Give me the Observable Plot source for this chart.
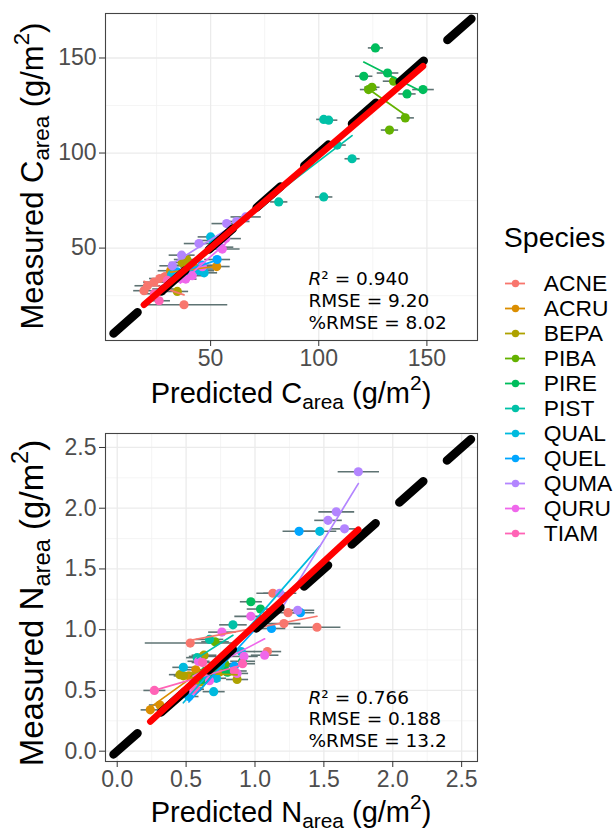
<!DOCTYPE html>
<html><head><meta charset="utf-8">
<script src="https://cdn.jsdelivr.net/npm/d3@7"></script>
<script src="https://cdn.jsdelivr.net/npm/@observablehq/plot@0.6"></script>
<style>
body{margin:0;background:#fff;}
#wrap{position:relative;width:615px;height:830px;overflow:hidden;font-family:"Liberation Sans",Arial,sans-serif;}
#wrap svg{position:absolute;overflow:visible;}
</style></head><body><div id="wrap"></div>
<script>
// ---------- data ----------
const species = ["ACNE","ACRU","BEPA","PIBA","PIRE","PIST","QUAL","QUEL","QUMA","QURU","TIAM"];
const speciesColors = ["#F8766D","#DB8E00","#AEA200","#64B200","#00BD5C","#00C1A7","#00BADE","#00A6FF","#B385FF","#EF67EB","#FF63B6"];

// Carbon (top panel)
const cSpecies = [
  "ACNE","ACNE","ACNE","ACNE","ACNE","ACNE",
  "ACRU","ACRU","ACRU","ACRU","ACRU",
  "BEPA","BEPA","BEPA","BEPA","BEPA",
  "PIBA","PIBA","PIBA","PIBA","PIBA",
  "PIRE","PIRE","PIRE","PIRE","PIRE",
  "PIST","PIST","PIST","PIST","PIST","PIST",
  "QUAL","QUAL","QUAL","QUAL","QUAL","QUAL",
  "QUEL","QUEL","QUEL","QUEL",
  "QUMA","QUMA","QUMA","QUMA","QUMA","QUMA","QUMA",
  "QURU","QURU","QURU","QURU","QURU","QURU",
  "TIAM","TIAM","TIAM","TIAM"];
const cPred = [
  19.2,20.8,23.8,26.5,29,37.7,
  31.5,40,45.5,52.8,36,
  34.6,36.9,39,33,42,
  123,124.6,140,132.7,134.6,
  126.2,120.8,131.8,140.8,148.2,
  102.3,104.6,115.4,102.3,81.5,108.5,
  50,51,44.6,47,38,32,
  46,34.5,53,40,
  57.4,62,66.2,44.6,36.6,32.3,54.5,
  55.4,57,41.5,38.5,46.2,36,
  26.2,24,30,28];
const cMeas = [
  27.6,30.2,32.1,34,35,20.2,
  38.1,41,39,40.3,35.5,
  27.2,42.4,44,36,40,
  133.4,134.6,118.5,112.1,137.8,
  155.3,140.4,142.1,131.1,133.4,
  117.7,117.3,97,76.9,74.3,104.2,
  55.9,54,38.1,37,36.5,36,
  41,37.5,44,38,
  62.9,64,66.4,52.4,46.3,40.7,50.5,
  49.5,55,35.5,33.7,40.2,34,
  22.3,26,33,28.5];
const cErr = [
  5,6,5,5,4,20,
  6,6,7,6,5,
  5,6,6,5,6,
  4,3.5,4,4,5,
  3.5,4,5,4,5,
  3.5,4,3.5,4,4,4,
  6,7,7,6,5,5,
  6,5,6,5,
  7,6,7,7,6,6,6,
  8,7,5,5,6,5,
  5,5,5,5];

// Nitrogen (bottom panel)
const nSpecies = [
  "ACNE","ACNE","ACNE","ACNE","ACNE","ACNE",
  "ACRU","ACRU","ACRU","ACRU","ACRU","ACRU",
  "BEPA","BEPA","BEPA","BEPA","BEPA",
  "PIBA","PIBA","PIBA","PIBA",
  "PIRE","PIRE","PIRE","PIRE","PIRE","PIRE","PIRE",
  "PIST","PIST","PIST","PIST",
  "QUAL","QUAL","QUAL","QUAL","QUAL","QUAL",
  "QUEL","QUEL","QUEL","QUEL","QUEL","QUEL",
  "QUMA","QUMA","QUMA","QUMA","QUMA","QUMA",
  "QURU","QURU","QURU","QURU","QURU","QURU","QURU","QURU",
  "TIAM","TIAM","TIAM","TIAM","TIAM"];
const nPred = [
  0.53,1.13,1.24,1.21,1.45,1.09,
  0.24,0.31,0.57,0.62,0.74,0.52,
  0.455,0.48,0.63,0.87,0.60,
  0.71,0.66,0.78,0.56,
  0.97,1.04,0.80,0.91,0.79,0.64,0.62,
  0.84,0.67,0.58,0.75,
  1.47,0.48,0.70,0.72,0.90,0.56,
  1.32,1.12,1.33,0.65,0.52,0.85,
  1.18,1.31,1.53,1.59,1.65,1.75,
  0.97,0.76,0.87,0.67,0.92,0.59,1.07,0.55,
  0.27,0.57,0.62,0.85,0.91];
const nMeas = [
  0.89,1.30,1.14,1.05,1.02,0.82,
  0.34,0.38,0.67,0.78,0.65,0.62,
  0.63,0.62,0.79,0.59,0.57,
  0.90,0.64,0.72,0.60,
  1.23,1.17,0.65,0.74,0.66,0.66,0.59,
  1.04,0.92,0.77,0.71,
  1.81,0.69,0.49,0.60,0.82,0.52,
  1.81,1.01,1.14,0.63,0.45,0.70,
  1.30,1.16,1.90,1.97,1.83,2.30,
  1.11,0.98,0.64,0.58,0.78,0.74,0.79,0.50,
  0.50,0.51,0.73,0.66,0.72];
const nErr = [
  0.33,0.12,0.10,0.12,0.17,0.10,
  0.07,0.08,0.08,0.10,0.08,0.07,
  0.08,0.07,0.09,0.08,0.07,
  0.10,0.08,0.09,0.08,
  0.08,0.10,0.08,0.09,0.07,0.08,0.07,
  0.10,0.10,0.08,0.08,
  0.12,0.08,0.08,0.07,0.10,0.06,
  0.12,0.10,0.10,0.08,0.07,0.08,
  0.12,0.12,0.10,0.13,0.10,0.15,
  0.12,0.10,0.08,0.08,0.10,0.08,0.10,0.06,
  0.08,0.06,0.08,0.09,0.09];

const cDomain = [1.4, 173.4];
const nDomain = [-0.085, 2.615];
const cTicks = [50, 100, 150];
const cMinor = [25, 75, 125];
const nTicks = [0, 0.5, 1, 1.5, 2, 2.5];
const nMinor = [0.25, 0.75, 1.25, 1.75, 2.25];
const annotC = ["R² = 0.940", "RMSE = 9.20", "%RMSE = 8.02"];
const annotN = ["R² = 0.766", "RMSE = 0.188", "%RMSE = 13.2"];

// ---------- drawing ----------
const wrap = document.getElementById("wrap");
const FONT = "Liberation Sans, Arial, sans-serif";

function panel({sp, pred, meas, err, domain, ticks, minor, fmt, annot, marginTop, marginBottom, annotDy}) {
  const data = pred.map((p, i) => ({species: sp[i], x: p, y: meas[i], e: err[i]}));
  const diag = domain.map(v => ({x: v, y: v}));
  return Plot.plot({
    width: 480, height: 415,
    marginLeft: 105, marginRight: 3, marginTop, marginBottom,
    x: {domain, label: null},
    y: {domain, label: null},
    color: {domain: species, range: speciesColors},
    style: {fontFamily: FONT, fontSize: "23px", color: "#4D4D4D", background: "transparent"},
    marks: [
      Plot.gridX(minor, {stroke: "#F3F3F3", strokeOpacity: 1, strokeWidth: 0.8}),
      Plot.gridY(minor, {stroke: "#F3F3F3", strokeOpacity: 1, strokeWidth: 0.8}),
      Plot.gridX(ticks, {stroke: "#EBEBEB", strokeOpacity: 1, strokeWidth: 1.3}),
      Plot.gridY(ticks, {stroke: "#EBEBEB", strokeOpacity: 1, strokeWidth: 1.3}),
      Plot.link(data, {x1: d => d.x - d.e, x2: d => d.x + d.e, y1: "y", y2: "y",
        stroke: "#5E7373", strokeWidth: 1.6, clip: true}),
      Plot.dot(data, {x: "x", y: "y", fill: "species", r: 4.6, clip: true}),
      Plot.linearRegressionY(data, {x: "x", y: "y", stroke: "species", ci: 0, strokeWidth: 1.7}),
      Plot.line(diag, {x: "x", y: "y", stroke: "black", strokeWidth: 8.5,
        strokeDasharray: "32 31.5", strokeDashoffset: 52.8, clip: true}),
      Plot.linearRegressionY(data, {x: "x", y: "y", stroke: "#FF0000", ci: 0, strokeWidth: 6.5}),
      Plot.frame({stroke: "#444", strokeWidth: 1.1}),
      Plot.axisX({ticks, tickFormat: fmt, tickSize: 6, tickPadding: 3, stroke: "#333", label: null}),
      Plot.axisY({ticks, tickFormat: fmt, tickSize: 6, tickPadding: 3, stroke: "#333", label: null}),
      Plot.text([annot.join("\n")], {text: d => d, frameAnchor: "bottom-right", textAnchor: "start",
        lineAnchor: "bottom", dx: -169, dy: annotDy, fontFamily: "DejaVu Sans", fontSize: 18.5,
        lineHeight: 1.17, fill: "black"})
    ]
  });
}

function italicR(svg) {
  d3.select(svg).selectAll("text").filter(function() {
    return this.getAttribute("font-family") === "DejaVu Sans";
  }).attr("letter-spacing", "1.6px");
  d3.select(svg).selectAll("tspan").each(function() {
    const t = this.textContent;
    if (t.startsWith("R²")) {
      this.textContent = "R";
      this.setAttribute("font-style", "italic");
      const rest = document.createElementNS("http://www.w3.org/2000/svg", "tspan");
      rest.textContent = t.slice(1);
      this.parentNode.insertBefore(rest, this.nextSibling);
    }
  });
}

function rich(sel, base, sub, size) {
  const s = size * 0.72;
  sel.append("tspan").text(base);
  sel.append("tspan").attr("font-size", s).attr("dy", size * 0.2).text(sub);
  sel.append("tspan").attr("dy", -size * 0.2).text(" (g/m");
  sel.append("tspan").attr("font-size", s).attr("dy", -size * 0.45).text("2");
  sel.append("tspan").attr("dy", size * 0.45).text(")");
}

function titles(svg, xLetter, xY, yCenter, xSize, ySize) {
  const g = d3.select(svg).append("g").attr("fill", "black").attr("font-family", FONT);
  rich(g.append("text").attr("x", 291).attr("y", xY).attr("text-anchor", "middle").attr("font-size", xSize),
    "Predicted " + xLetter, "area", xSize);
  rich(g.append("text").attr("transform", `translate(43,${yCenter}) rotate(-90)`)
    .attr("text-anchor", "middle").attr("font-size", ySize), "Measured " + xLetter, "area", ySize);
}

const topPlot = panel({sp: cSpecies, pred: cPred, meas: cMeas, err: cErr, domain: cDomain,
  ticks: cTicks, minor: cMinor, fmt: d3.format("d"), annot: annotC,
  marginTop: 13, marginBottom: 75, annotDy: -12});
topPlot.style.left = "0px"; topPlot.style.top = "0px";
italicR(topPlot);
titles(topPlot, "C", 403.3, 176, 29, 31);
wrap.appendChild(topPlot);

const botPlot = panel({sp: nSpecies, pred: nPred, meas: nMeas, err: nErr, domain: nDomain,
  ticks: nTicks, minor: nMinor, fmt: d3.format(".1f"), annot: annotN,
  marginTop: 18, marginBottom: 69, annotDy: -14.5});
botPlot.style.left = "0px"; botPlot.style.top = "415px";
italicR(botPlot);
titles(botPlot, "N", 406.7, 188, 29, 33);
wrap.appendChild(botPlot);

const legendPlot = Plot.plot({
  width: 125, height: 340, margin: 0,
  x: {domain: [0, 1], range: [15, 35], axis: null},
  y: {type: "point", padding: 0, domain: species, range: [69.3, 326.7], axis: null},
  color: {domain: species, range: speciesColors},
  style: {fontFamily: FONT, background: "transparent"},
  marks: [
    Plot.ruleY(species, {y: d => d, x1: 0, x2: 1, stroke: d => d, strokeWidth: 1.8}),
    Plot.dot(species, {x: 0.5, y: d => d, fill: d => d, r: 3.7}),
    Plot.text(species, {x: 1, y: d => d, text: d => d, dx: 18.3, textAnchor: "start", fontSize: 22.8, fill: "black"}),
    Plot.text(["Species"], {text: d => d, frameAnchor: "top-left", dx: 13.3, dy: 36.7, lineAnchor: "bottom",
      textAnchor: "start", fontSize: 28.5, fill: "black"})
  ]
});
legendPlot.style.left = "490px"; legendPlot.style.top = "210px";
wrap.appendChild(legendPlot);
</script>
</body></html>
